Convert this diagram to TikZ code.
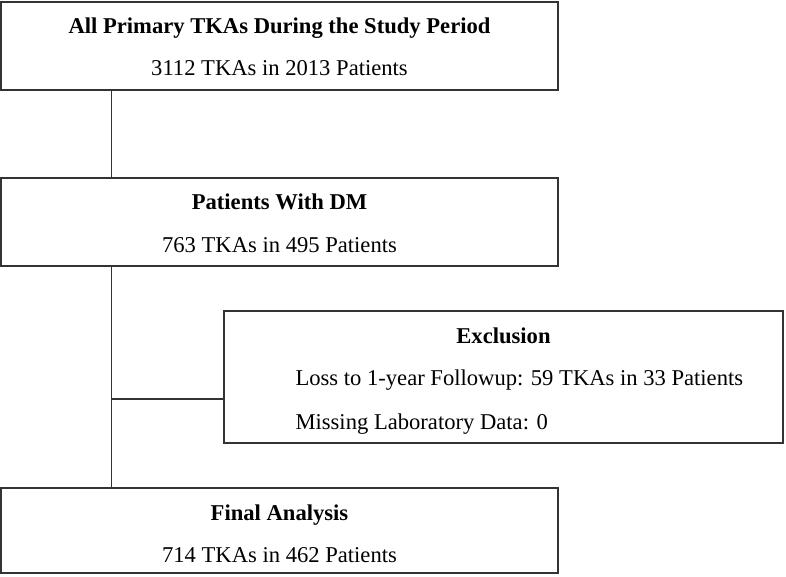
\documentclass[tikz,border=0pt]{standalone}
\usepackage{fontspec}
\setmainfont{Liberation Serif}
\usetikzlibrary{positioning}

\begin{document}
\begin{tikzpicture}[x=1pt, y=-1pt,
   font=\fontsize{22.6}{27}\selectfont,
   stage/.style={draw=black!80, line width=1.2pt, minimum width=557pt,
                 minimum height=88pt, inner sep=0pt},
   title/.style={anchor=base, font=\fontsize{22.6}{27}\selectfont\bfseries},
   count/.style={anchor=base},
   link/.style={draw=black!80, line width=1.2pt}]
  \useasboundingbox (0,0) rectangle (786,577);
  % boxes
  \node[stage] (all)   at (279.5,46)    {};
  \node[stage] (dm)    at (279.5,222)   {};
  \node[stage, minimum width=559pt, minimum height=132pt] (excl) at (503.5,377) {};
  \node[stage, minimum height=85pt] (final) at (279.5,530.5) {};
  % texts
  \node[title] (allT)   at (279.5,34)  {All Primary TKAs During the Study Period};
  \node[count] (allN)   at (279.5,76)  {3112 TKAs in 2013 Patients};
  \node[title] (dmT)    at (279.5,210) {Patients With DM};
  \node[count] (dmN)    at (279.5,252) {763 TKAs in 495 Patients};
  \node[title] (exclT)  at (503.5,343) {Exclusion};
  \node[count, anchor=base west] (exclA) at (292,385) {Loss to 1-year Followup: 59 TKAs in 33 Patients};
  \node[count, anchor=base west] (exclB) at (292,429) {Missing Laboratory Data: 0};
  \node[title] (finalT) at (279.5,520) {Final Analysis};
  \node[count] (finalN) at (279.5,562) {714 TKAs in 462 Patients};
  % connectors
  \coordinate (split) at (112,399);
  \draw[link] ([xshift=111pt]all.south west) -- ([xshift=111pt]dm.north west);
  \draw[link] ([xshift=111pt]dm.south west) -- ([xshift=111pt]final.north west);
  \draw[link] (split) -- (split -| excl.west);
\end{tikzpicture}
\end{document}
